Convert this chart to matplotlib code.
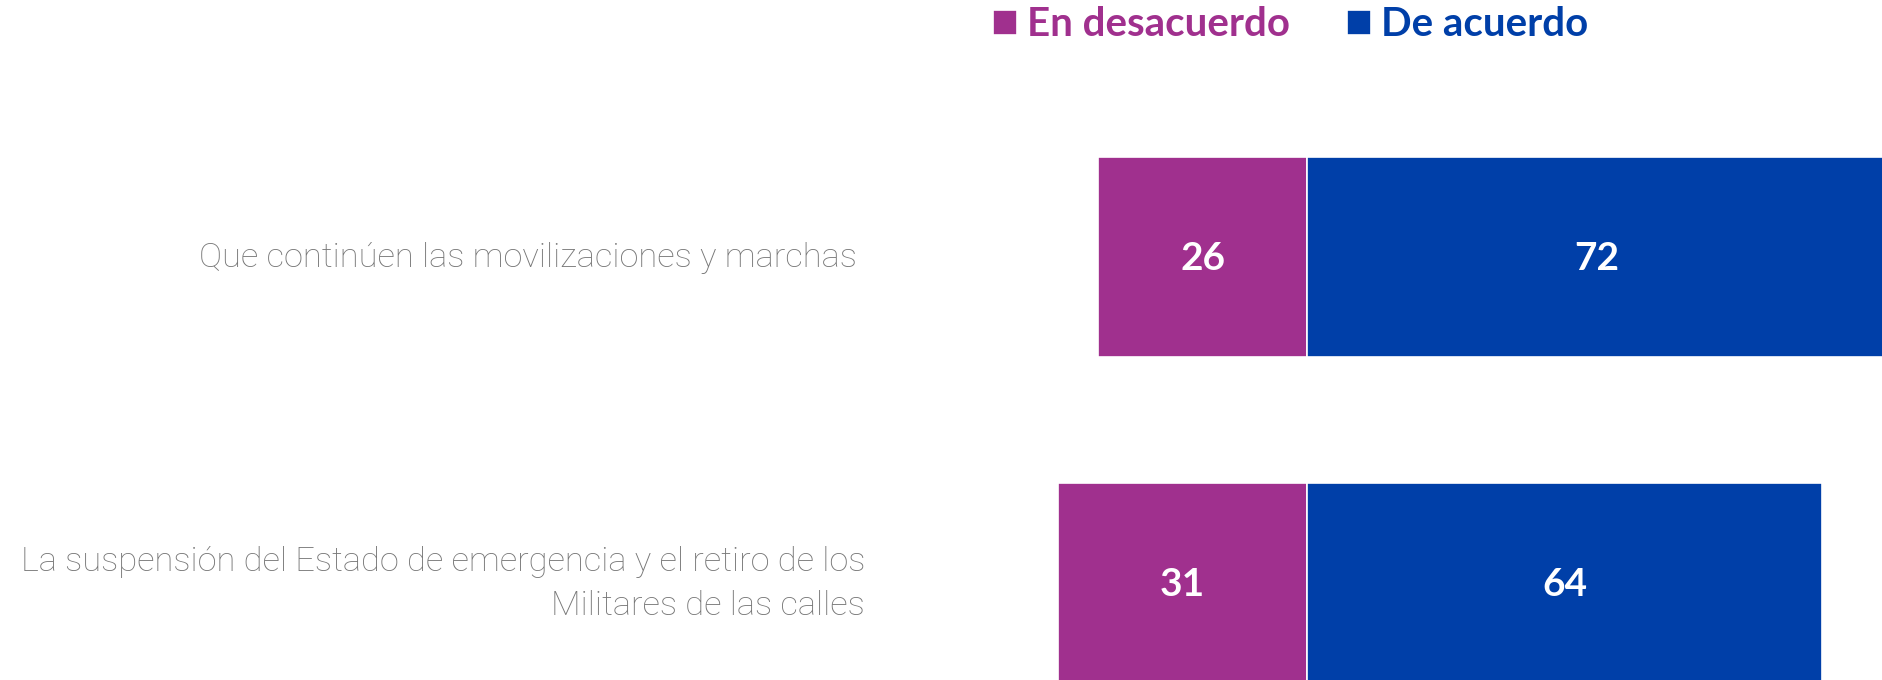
import matplotlib
matplotlib.use("Agg")
import matplotlib.pyplot as plt

categories = ["Que continúen las movilizaciones y marchas",
              "La suspensión del Estado de emergencia y el retiro de los\nMilitares de las calles"]
en_desacuerdo = [26, 31]
de_acuerdo = [72, 64]
series_names = ["En desacuerdo", "De acuerdo"]

PURPLE = "#A0308E"
BLUE = "#003FA8"
GREY = "#777777"

fig = plt.figure(figsize=(18.83, 6.8), dpi=100)
ax = fig.add_axes([0, 0, 1, 1])

y = list(range(len(categories)))
h = 0.613
b1 = ax.barh(y, [-v for v in en_desacuerdo], height=h, color=PURPLE,
             edgecolor="white", linewidth=1.2, label=series_names[0])
b2 = ax.barh(y, de_acuerdo, height=h, color=BLUE,
             edgecolor="white", linewidth=1.2, label=series_names[1])

for yi, v in zip(y, en_desacuerdo):
    ax.text(-v / 2, yi + 0.006, f"{v}", ha="center", va="center", color="white",
            fontsize=28, fontweight="bold", family="Lato")
for yi, v in zip(y, de_acuerdo):
    ax.text(v / 2, yi + 0.006, f"{v}", ha="center", va="center", color="white",
            fontsize=28, fontweight="bold", family="Lato")

label_x = [-56.0, -55.0]
for yi, c, lx in zip(y, categories, label_x):
    ax.text(lx, yi + 0.004, c, ha="right", va="center", color=GREY, fontsize=24.8,
            family="Roboto", fontweight="light", linespacing=1.5)

ax.set_xlim(-162.6, 71.6)
ax.set_ylim(1.298, -0.788)
ax.axis("off")

leg = fig.legend(handles=[b1, b2], labels=series_names, loc="center left",
                 bbox_to_anchor=(993 / 1883, 1 - 25 / 680), ncol=2, frameon=False,
                 handlelength=0.6, handleheight=0.6, handletextpad=0.25,
                 columnspacing=1.4, borderpad=0, borderaxespad=0,
                 prop={"family": "Lato", "weight": "bold", "size": 29},
                 labelcolor=[PURPLE, BLUE])

fig.savefig("out.png", dpi=100, facecolor="white")
